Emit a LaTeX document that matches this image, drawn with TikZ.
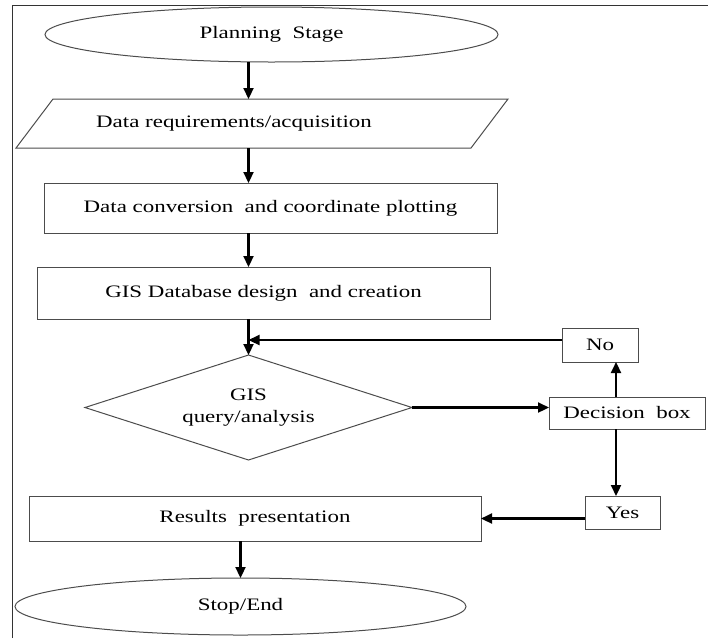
\documentclass[tikz,border=0pt]{standalone}
\usepackage{fontspec}
\setmainfont{Liberation Serif}[FakeStretch=1.31]
\usepackage{tikz}
\usetikzlibrary{arrows.meta,positioning,calc,shapes.geometric}

\begin{document}
\begin{tikzpicture}[
  x=1pt, y=-1pt,
  font=\fontsize{17.5}{22}\selectfont,
  box/.style={draw=black!70, line width=1pt, minimum width=453pt, minimum height=50pt, inner sep=0pt, outer sep=0pt, align=center},
  smallbox/.style={draw=black!70, line width=1pt, minimum height=33pt, inner sep=0pt, outer sep=0pt},
  terminal/.style={draw=black!70, line width=1pt, ellipse, inner sep=0pt, outer sep=0pt},
  io/.style={minimum width=455pt, minimum height=49pt, inner sep=0pt, outer sep=0pt},
  decision/.style={draw=black!70, line width=1pt, diamond, aspect=3.1, minimum width=327pt, minimum height=105pt, inner sep=0pt, outer sep=0pt, align=center},
  arrow/.style={-{Triangle[length=11pt, width=10pt]}, line width=2.2pt}
]
\useasboundingbox (0,0) rectangle (708,638);

% frame
\draw[line width=1pt, black!80] (12,638) -- (12,5) -- (708,5);

\node[terminal, minimum width=453pt, minimum height=55pt] (plan) at (271.5,34.5) {Planning\ \ Stage};

\node[io] (acq) at (262,123.5) {Data requirements/acquisition\hspace*{56pt}};
\draw[black!70, line width=1pt] ($(acq.south west)+(-18.5,0)$) -- ($(acq.north west)+(18.5,0)$)
  -- ($(acq.north east)+(18.5,0)$) -- ($(acq.south east)+(-18.5,0)$) -- cycle;

\node[box] (conv) at (270.5,208) {Data conversion\ \ and coordinate plotting};

\node[box, minimum height=52pt] (db) at (263.5,293) {GIS Database design\ \ and creation};

\node[decision] (query) at (248.5,407.5) {GIS\\query/analysis};

\node[smallbox, minimum width=76pt, minimum height=34pt] (no) at (600,345) {No};
\node[smallbox, minimum width=156pt, minimum height=32pt] (dec) at (627,413) {Decision\ \ box};
\node[smallbox, minimum width=75pt] (yes) at (622.5,512.5) {Yes};

\node[box, minimum width=452pt, minimum height=45pt] (res) at (255,518.5) {Results\ \ presentation};

\node[terminal, minimum width=451pt, minimum height=57pt] (stop) at (240.5,606.5) {Stop/End};

\coordinate (up) at ([xshift=-11pt]dec.north);
\coordinate (down) at ([xshift=-11pt]dec.south);
\coordinate (back) at ([yshift=5pt]no.west);

\draw[arrow] (plan.south -| query.north) -- (acq.north -| query.north);
\draw[arrow] (acq.south -| query.north) -- (conv.north -| query.north);
\draw[arrow] (conv.south -| query.north) -- (db.north -| query.north);
\draw[arrow] (db.south -| query.north) -- (query.north);
\draw[arrow] (back) -- (back -| query.north);
\draw[arrow] (query.east) -- (query.east -| dec.west);
\draw[arrow] (up) -- (up |- no.south);
\draw[arrow] (down) -- (down |- yes.north);
\draw[arrow] (res.east -| yes.west) -- (res.east);
\draw[arrow] (res.south -| stop.north) -- (stop.north);

\end{tikzpicture}
\end{document}
